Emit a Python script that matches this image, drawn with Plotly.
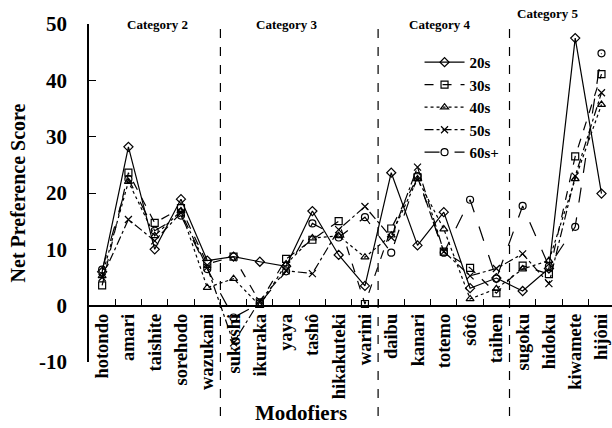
import plotly.graph_objects as go

categories = ["hotondo", "amari", "taishite", "sorehodo", "wazukani",
              "sukoshi", "ikuraka", "yaya", "tashô", "hikakuteki", "warini",
              "daibu", "kanari", "totemo", "sôtô", "taihen",
              "sugoku", "hidoku", "kiwamete", "hijôni"]

s20 = [6.0, 28.2, 10.0, 18.9, 8.0, 8.7, 7.8, 7.0, 16.8, 9.0, 3.5,
       23.6, 10.7, 16.6, 3.1, 4.9, 2.6, 6.6, 47.5, 19.9]
s30 = [3.6, 23.6, 14.7, 17.3, 7.4, 8.7, 0.6, 8.3, 11.7, 15.0, 0.3,
       13.7, 22.8, 9.6, 6.7, 2.2, 7.1, 5.6, 26.5, 41.1]
s40 = [5.3, 22.0, 12.4, 16.8, 3.2, 4.8, 0.0, 7.4, 12.0, 12.4, 8.6,
       12.5, 22.5, 13.6, 1.2, 3.0, 6.5, 8.0, 22.5, 35.7]
s50 = [5.0, 15.3, 11.5, 16.5, 6.8, -6.6, 0.9, 6.2, 5.7, 13.5, 17.6,
       12.1, 24.6, 9.6, 5.3, 6.6, 9.2, 3.9, 23.0, 37.8]
s60 = [6.4, 22.5, 13.3, 16.0, 6.5, -2.1, 0.4, 6.1, 14.6, 12.1, 15.7,
       9.4, 23.0, 9.4, 18.8, 4.8, 17.7, 7.0, 14.0, 44.8]

y_ticks = [-10, 0, 10, 20, 30, 40, 50]
y_tick_labels = ["-10", "0", "10", "20", "30", "40", "50"]

series = [("20s", s20, "solid", "diamond-open"),
          ("30s", s30, "dash", "square-open"),
          ("40s", s40, "dot", "triangle-up-open"),
          ("50s", s50, "dashdot", "x-thin-open"),
          ("60s+", s60, "longdash", "circle-open")]

FONT = "Liberation Serif"

fig = go.Figure()
for name, vals, dash, sym in series:
    fig.add_trace(go.Scatter(
        x=categories, y=vals, name=name, mode="lines+markers",
        line=dict(color="black", width=1.2, dash=dash),
        marker=dict(symbol=sym, size=7, color="black",
                    line=dict(color="black", width=1.2)),
    ))

fig.update_layout(
    width=612, height=428,
    margin=dict(l=89, r=0, t=24, b=66, autoexpand=False),
    paper_bgcolor="white", plot_bgcolor="white",
    font=dict(family=FONT, color="black"),
    showlegend=True,
    legend=dict(x=0.632, y=0.935, xanchor="left", yanchor="top",
                bgcolor="rgba(0,0,0,0)",
                font=dict(family=FONT, size=15, weight="bold"),
                tracegroupgap=0, itemwidth=40),
    xaxis=dict(type="category", range=[-0.5, 19.4],
               anchor="free", position=1/6, automargin=False,
               showline=True, linecolor="black", linewidth=1.5,
               showgrid=False, zeroline=False,
               tickson="boundaries", ticks="inside", ticklen=6,
               tickcolor="black", tickwidth=1.2,
               tickangle=-90,
               tickfont=dict(family=FONT, size=18.5, weight="bold")),
    yaxis=dict(range=[-10, 50], tickvals=y_ticks, ticktext=y_tick_labels,
               automargin=False,
               showline=True, linecolor="black", linewidth=1.5,
               showgrid=False, zeroline=False,
               ticks="inside", ticklen=7, tickcolor="black", tickwidth=1.2,
               ticklabelstandoff=16,
               tickfont=dict(family=FONT, size=21, weight="bold"),
               title=dict(text="Net Preference Score", standoff=8,
                          font=dict(family=FONT, size=20, weight="bold"))),
)

# category separators
for xb in [4.5, 10.5, 15.5]:
    fig.add_shape(type="line", xref="x", yref="paper", x0=xb, x1=xb,
                  y0=-0.16, y1=1.01,
                  line=dict(color="black", width=1.2, dash="dash"))

cat_labels = [("Category 2", 2.1, 1.0), ("Category 3", 7.05, 1.0),
              ("Category 4", 12.85, 1.0), ("Category 5", 16.95, 1.03)]
for txt, xc, yp in cat_labels:
    fig.add_annotation(text=txt, x=xc, xref="x", y=yp, yref="paper",
                       showarrow=False, yanchor="middle",
                       font=dict(family=FONT, size=13, weight="bold"))

fig.add_annotation(text="Modofiers", x=0.405, xref="paper", y=-0.15,
                   yref="paper", showarrow=False, yanchor="middle",
                   font=dict(family=FONT, size=21, weight="bold"))

fig.write_html("out.html", config={"displayModeBar": False},
               post_script="document.body.style.margin='0';"
                           "document.body.style.overflow='hidden';")
